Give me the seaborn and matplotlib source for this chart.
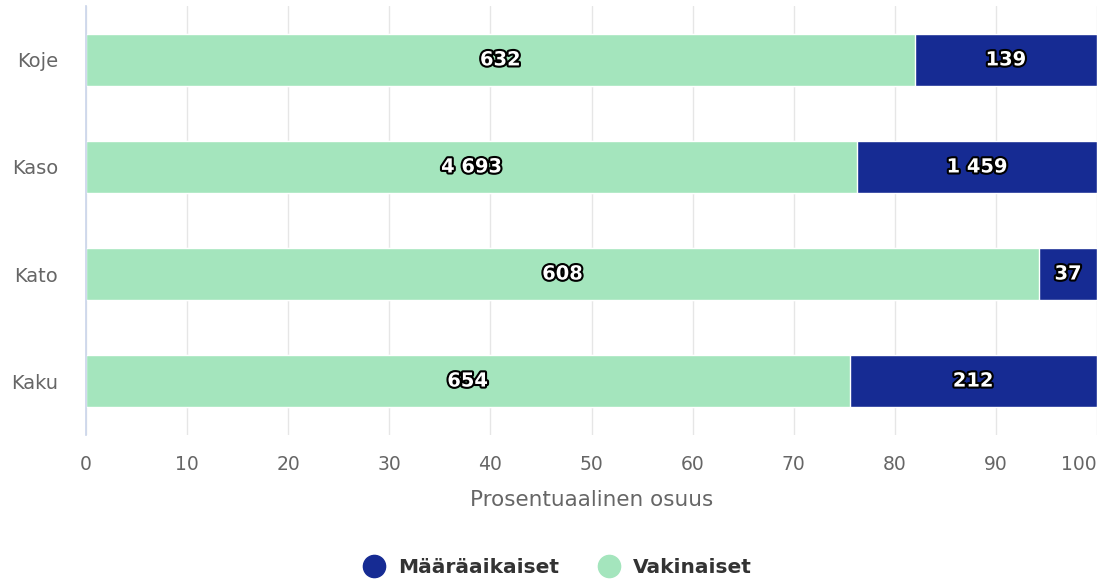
import pandas as pd
import seaborn as sns
import matplotlib.pyplot as plt
from matplotlib import patheffects
from matplotlib.lines import Line2D

# data
categories = ["Koje", "Kaso", "Kato", "Kaku"]
vakinaiset = [632, 4693, 608, 654]
maaraaikaiset = [139, 1459, 37, 212]
x_ticks = [0, 10, 20, 30, 40, 50, 60, 70, 80, 90, 100]

green = "#a4e5bd"
blue = "#162b93"

df = pd.DataFrame({"kategoria": categories, "vak": vakinaiset, "maa": maaraaikaiset})
df["total"] = df["vak"] + df["maa"]
df["vak_pct"] = df["vak"] / df["total"] * 100
df["full_pct"] = 100.0

sns.set_theme(style="white")
plt.rcParams["font.family"] = ["DejaVu Sans"]

fig, ax = plt.subplots(figsize=(11.01, 5.81), dpi=100)
fig.subplots_adjust(left=0.0781, right=0.9964, top=0.989, bottom=0.252)

# blue full bar underneath, green share on top -> stacked look
sns.barplot(data=df, y="kategoria", x="full_pct", color=blue, saturation=1,
            width=0.48, edgecolor="white", linewidth=1, ax=ax)
sns.barplot(data=df, y="kategoria", x="vak_pct", color=green, saturation=1,
            width=0.48, edgecolor="white", linewidth=1, ax=ax)

stroke = [patheffects.withStroke(linewidth=3, foreground="black")]
fmt = lambda v: f"{v:,}".replace(",", " ")
for i, row in df.iterrows():
    ax.text(row["vak_pct"] / 2, i, fmt(row["vak"]), ha="center", va="center",
            color="white", fontsize=14, fontweight="bold", path_effects=stroke)
    ax.text((row["vak_pct"] + 100) / 2, i, fmt(row["maa"]), ha="center", va="center",
            color="white", fontsize=14, fontweight="bold", path_effects=stroke)

ax.set_xlim(0, 100)
ax.set_xticks(x_ticks)
ax.grid(axis="x", color="#e6e6e6", linewidth=1)
ax.set_axisbelow(True)
for s in ["top", "right", "bottom"]:
    ax.spines[s].set_visible(False)
ax.spines["left"].set_color("#ccd6eb")
ax.tick_params(axis="x", length=0, pad=15, labelsize=13.5, labelcolor="#666666")
ax.tick_params(axis="y", length=0, pad=20, labelsize=14, labelcolor="#666666")
ax.get_xticklabels()[-1].set_ha("right")
ax.set_ylabel("")
ax.set_xlabel("Prosentuaalinen osuus", fontsize=15.5, color="#666666", labelpad=11)

handles = [
    Line2D([], [], marker="o", linestyle="", markersize=16, color=blue),
    Line2D([], [], marker="o", linestyle="", markersize=16, color=green),
]
fig.legend(handles, ["Määräaikaiset", "Vakinaiset"], loc="lower center",
           bbox_to_anchor=(0.502, -0.025), ncol=2, frameon=False,
           prop={"size": 14.5, "weight": "bold"}, labelcolor="#333333",
           handletextpad=0.2, columnspacing=1.45)

fig.savefig("out.png", dpi=100)
